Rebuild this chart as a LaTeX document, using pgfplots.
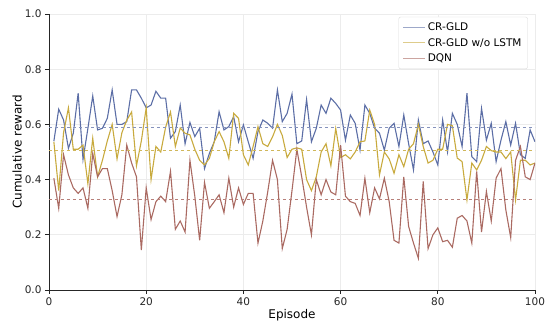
\documentclass[border=0pt]{standalone}
\usepackage{fontspec}
\setmainfont{DejaVu Sans}
\usepackage{pgfplots}
\pgfplotsset{compat=1.18}
\usepackage{pgfplotstable}
\definecolor{cblue}{RGB}{92,110,166}
\definecolor{cyel}{RGB}{200,170,62}
\definecolor{cred}{RGB}{170,106,98}

\pgfplotstableread{
e b y r
1 0.539 0.537 0.405
2 0.655 0.360 0.296
3 0.616 0.570 0.490
4 0.513 0.660 0.417
5 0.568 0.510 0.370
6 0.713 0.510 0.350
7 0.473 0.525 0.370
8 0.585 0.385 0.296
9 0.703 0.550 0.495
10 0.580 0.410 0.410
11 0.586 0.470 0.440
12 0.622 0.540 0.440
13 0.725 0.600 0.360
14 0.600 0.475 0.266
15 0.600 0.570 0.345
16 0.610 0.615 0.525
17 0.725 0.645 0.460
18 0.725 0.450 0.410
19 0.695 0.540 0.145
20 0.660 0.660 0.370
21 0.670 0.400 0.255
22 0.720 0.520 0.320
23 0.695 0.500 0.340
24 0.695 0.590 0.320
25 0.550 0.645 0.430
26 0.574 0.520 0.220
27 0.670 0.587 0.250
28 0.530 0.568 0.210
29 0.607 0.562 0.470
30 0.556 0.510 0.340
31 0.586 0.470 0.180
32 0.440 0.453 0.390
33 0.495 0.477 0.296
34 0.537 0.537 0.320
35 0.646 0.574 0.345
36 0.580 0.537 0.280
37 0.592 0.477 0.405
38 0.628 0.640 0.300
39 0.537 0.622 0.370
40 0.598 0.490 0.310
41 0.537 0.453 0.350
42 0.477 0.520 0.350
43 0.574 0.592 0.170
44 0.616 0.530 0.250
45 0.604 0.520 0.355
46 0.586 0.555 0.470
47 0.725 0.600 0.400
48 0.610 0.560 0.150
49 0.640 0.480 0.220
50 0.710 0.510 0.360
51 0.530 0.515 0.510
52 0.540 0.510 0.410
53 0.690 0.400 0.300
54 0.537 0.360 0.200
55 0.586 0.410 0.400
56 0.670 0.500 0.345
57 0.640 0.530 0.400
58 0.695 0.450 0.355
59 0.676 0.585 0.345
60 0.652 0.480 0.525
61 0.543 0.490 0.340
62 0.634 0.475 0.320
63 0.604 0.500 0.314
64 0.507 0.537 0.270
65 0.670 0.540 0.405
66 0.640 0.652 0.280
67 0.586 0.600 0.370
68 0.568 0.417 0.330
69 0.507 0.500 0.405
70 0.586 0.475 0.320
71 0.604 0.423 0.180
72 0.520 0.490 0.170
73 0.634 0.447 0.410
74 0.530 0.510 0.230
75 0.435 0.530 0.170
76 0.616 0.600 0.115
77 0.530 0.520 0.393
78 0.540 0.460 0.150
79 0.500 0.470 0.200
80 0.453 0.510 0.225
81 0.616 0.510 0.175
82 0.500 0.600 0.180
83 0.640 0.595 0.155
84 0.600 0.478 0.260
85 0.520 0.465 0.270
86 0.713 0.326 0.250
87 0.483 0.460 0.170
88 0.465 0.435 0.430
89 0.658 0.470 0.210
90 0.543 0.520 0.357
91 0.604 0.505 0.250
92 0.465 0.500 0.405
93 0.543 0.500 0.440
94 0.610 0.476 0.290
95 0.525 0.500 0.190
96 0.604 0.326 0.470
97 0.490 0.470 0.520
98 0.477 0.470 0.410
99 0.580 0.453 0.400
100 0.537 0.460 0.460
}\datatable

\begin{document}
\begin{tikzpicture}
\begin{axis}[
  name=ax,
  scale only axis,
  width=486pt, height=276pt,
  xmin=0, xmax=100, ymin=0, ymax=1,
  axis x line*=bottom, axis y line*=left,
  axis line style={black!85, line width=0.8pt},
  xtick={0,20,40,60,80,100},
  ytick={0,0.2,0.4,0.6,0.8,1.0},
  yticklabel style={/pgf/number format/.cd, fixed, fixed zerofill, precision=1},
  /pgf/number format/assume math mode=true,
  tick label style={font=\fontsize{10.5}{12}\selectfont, black!85},
  tick align=outside, major tick length=4pt,
  tick style={black!85, line width=0.8pt},
  grid=major, major grid style={gray!15, line width=0.6pt},
  xlabel={Episode}, ylabel={Cumulative reward},
  label style={font=\fontsize{12}{14}\selectfont},
  xlabel style={yshift=3pt},
  ylabel style={yshift=-4pt},
  legend style={at={(0.985,0.99)}, anchor=north east, draw=gray!30, rounded corners=2pt,
    font=\fontsize{10.5}{12}\selectfont, row sep=2pt, inner xsep=4pt, inner ysep=4pt, fill=white},
  legend cell align=left,
  legend image code/.code={\draw[#1, opacity=0.6] (0pt,0pt) -- (22pt,0pt);},
]
\addplot[cblue, line width=1.1pt] table[x=e, y=b] {\datatable};
\addlegendentry{CR-GLD}
\addplot[cyel, line width=1.1pt] table[x=e, y=y] {\datatable};
\addlegendentry{CR-GLD w/o LSTM}
\addplot[cred, line width=1.1pt] table[x=e, y=r] {\datatable};
\addlegendentry{DQN}
\addplot[cblue!75, dashed, line width=0.7pt, forget plot] coordinates {(0,0.589) (100,0.589)};
\addplot[cyel!85, dashed, line width=0.7pt, forget plot] coordinates {(0,0.507) (100,0.507)};
\addplot[cred!85, dashed, line width=0.7pt, forget plot] coordinates {(0,0.327) (100,0.327)};
\end{axis}
\path ([xshift=-49pt,yshift=-39pt]ax.south west) rectangle ([xshift=15pt,yshift=14pt]ax.north east);
\end{tikzpicture}
\end{document}
